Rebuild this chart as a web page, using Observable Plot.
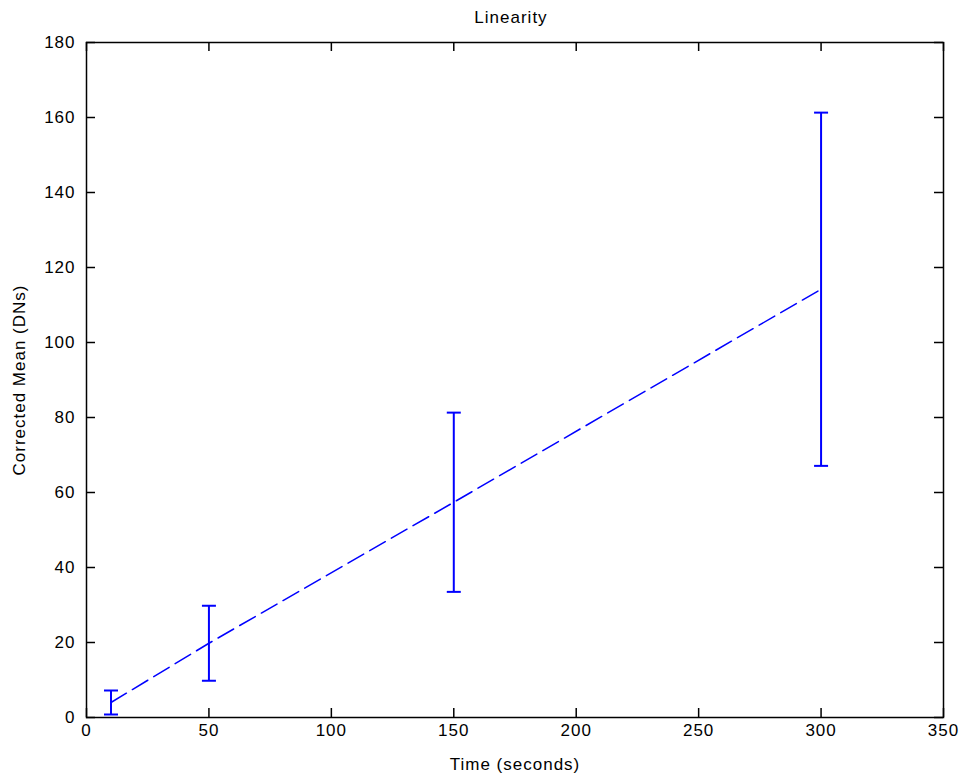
<!DOCTYPE html>
<html>
<head>
<meta charset="utf-8">
<script src="https://cdn.jsdelivr.net/npm/d3@7"></script>
<script src="https://cdn.jsdelivr.net/npm/@observablehq/plot@0.6"></script>
<style>
  body { margin: 0; background: #fff; }
  #title { width: 964px; height: 30px; position: relative; font-family: "Liberation Sans", Arial, sans-serif; font-size: 17px; letter-spacing: 1px; color: #000; }
  #title span { position: absolute; left: 511px; top: 8px; transform: translateX(-50%); white-space: nowrap; }
</style>
</head>
<body>
<div id="title"><span>Linearity</span></div>
<div id="chart"></div>
<script>
const time = [10, 50, 150, 300];
const meanDN = [4.0, 19.8, 57.4, 114.2];
const errDN = [3.2, 10.0, 23.9, 47.1];
const xTicks = [0, 50, 100, 150, 200, 250, 300, 350];
const yTicks = [0, 20, 40, 60, 80, 100, 120, 140, 160, 180];

const data = time.map((t, i) => ({t, m: meanDN[i], lo: meanDN[i] - errDN[i], hi: meanDN[i] + errDN[i]}));

const W = 964, H = 748;
const mL = 86, mR = 21, mT = 12, mB = 61;
const pw = W - mL - mR, ph = H - mT - mB;
const tick = 9;

const capSymbol = {
  draw(ctx, size) {
    const w = 7;
    ctx.moveTo(-w, 0);
    ctx.lineTo(w, 0);
  }
};

const blue = "#0000ff";

const chart = Plot.plot({
  width: W,
  height: H,
  marginLeft: mL,
  marginRight: mR,
  marginTop: mT,
  marginBottom: mB,
  style: {fontFamily: "'Liberation Sans', Arial, sans-serif", fontSize: "17px", letterSpacing: "1px", color: "#000", background: "#fff"},
  x: {domain: [0, 350]},
  y: {domain: [0, 180]},
  marks: [
    // inward ticks on all four sides
    Plot.ruleX(xTicks, {x: d => d, insetTop: ph - tick, stroke: "#000", strokeWidth: 1.5}),
    Plot.ruleX(xTicks, {x: d => d, insetBottom: ph - tick, stroke: "#000", strokeWidth: 1.5}),
    Plot.ruleY(yTicks, {y: d => d, insetRight: pw - tick, stroke: "#000", strokeWidth: 1.5}),
    Plot.ruleY(yTicks, {y: d => d, insetLeft: pw - tick, stroke: "#000", strokeWidth: 1.5}),
    Plot.axisX({ticks: xTicks, tickSize: 0, tickPadding: 6, label: "Time (seconds)", labelAnchor: "center", labelArrow: "none", labelOffset: 52}),
    Plot.axisY({ticks: yTicks, tickSize: 0, tickPadding: 11, label: "Corrected Mean (DNs)", labelAnchor: "center", labelArrow: "none", labelOffset: 74}),
    // mean line
    Plot.line(data, {x: "t", y: "m", stroke: blue, strokeWidth: 1.5, strokeDasharray: "18,7"}),
    // error bars
    Plot.ruleX(data, {x: "t", y1: "lo", y2: "hi", stroke: blue, strokeWidth: 2}),
    Plot.dot(data, {x: "t", y: "lo", symbol: capSymbol, stroke: blue, strokeWidth: 2, fill: "none"}),
    Plot.dot(data, {x: "t", y: "hi", symbol: capSymbol, stroke: blue, strokeWidth: 2, fill: "none"}),
    Plot.frame({stroke: "#000", strokeWidth: 1.5})
  ]
});
document.getElementById("chart").appendChild(chart);
</script>
</body>
</html>
